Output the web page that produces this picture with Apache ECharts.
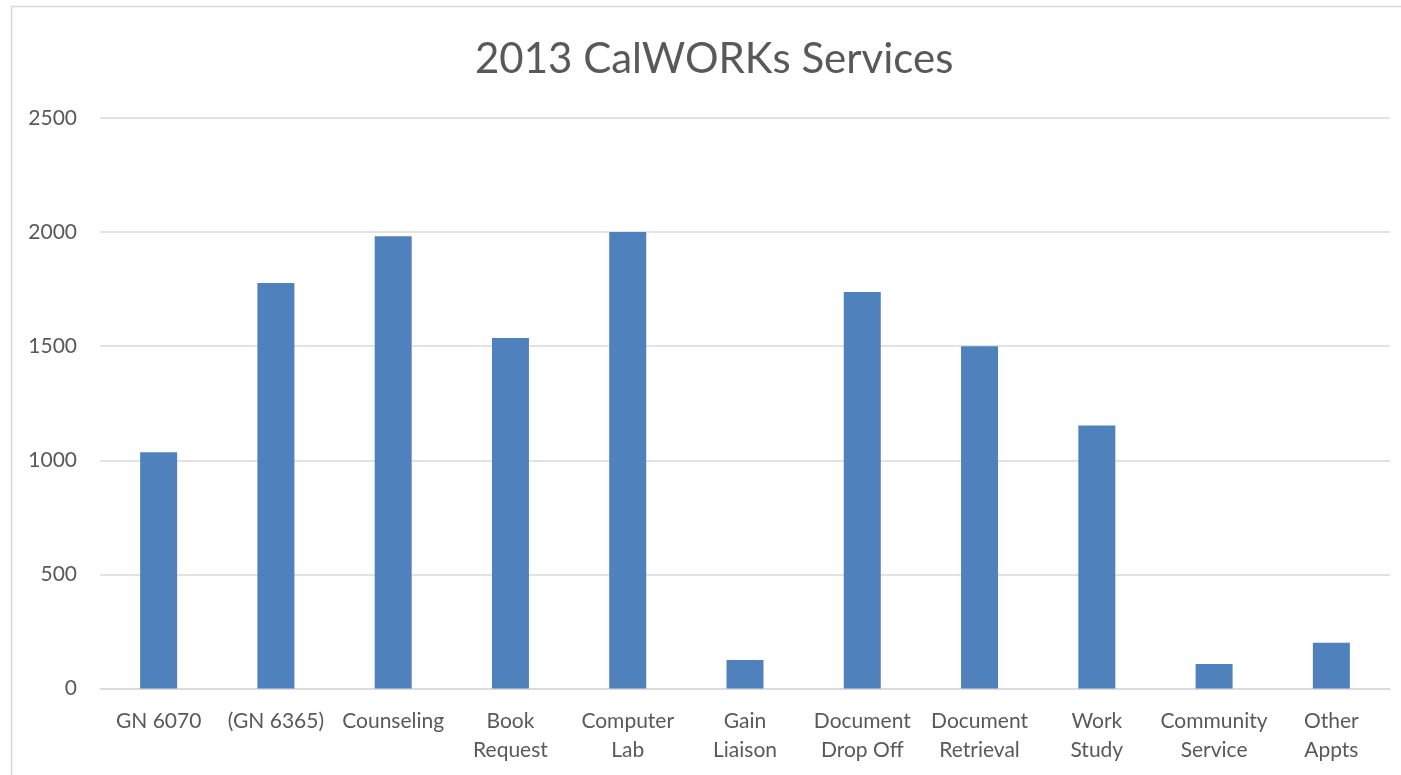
<!DOCTYPE html>
<html>
<head>
<meta charset="utf-8">
<script src="https://cdn.jsdelivr.net/npm/echarts@6/dist/echarts.min.js"></script>
<style>
html,body{margin:0;padding:0;background:#fff;}
#chart{width:1401px;height:775px;}
</style>
</head>
<body>
<div id="chart"></div>
<script>
const title = '2013 CalWORKs Services';
const categories = ['GN 6070', '(GN 6365)', 'Counseling', 'Book\nRequest', 'Computer\nLab', 'Gain\nLiaison', 'Document\nDrop Off', 'Document\nRetrieval', 'Work\nStudy', 'Community\nService', 'Other\nAppts'];
const values = [1035, 1777, 1982, 1536, 2000, 125, 1738, 1500, 1153, 107, 200];
const yTicks = { min: 0, max: 2500, interval: 500 };

const chart = echarts.init(document.getElementById('chart'), null, { renderer: 'canvas' });
const font = 'Lato, "Open Sans", sans-serif';
chart.setOption({
  animation: false,
  backgroundColor: '#ffffff',
  graphic: [{
    type: 'rect',
    shape: { x: 11.5, y: 6.5, width: 1500, height: 900 },
    style: { fill: 'none', stroke: '#d9d9d9', lineWidth: 1.5 },
    silent: true
  }],
  title: {
    text: title,
    left: 475,
    top: 38,
    padding: 0,
    textStyle: { fontFamily: font, fontWeight: 'normal', fontSize: 42, color: '#595959' }
  },
  grid: { left: 100, right: 11, top: 118, bottom: 86.5, containLabel: false },
  xAxis: {
    type: 'category',
    data: categories,
    axisLine: { show: true, lineStyle: { color: '#d9d9d9', width: 1.5 } },
    axisTick: { show: false },
    axisLabel: {
      interval: 0,
      margin: 18,
      color: '#595959',
      fontFamily: font,
      fontSize: 21,
      lineHeight: 29
    }
  },
  yAxis: {
    type: 'value',
    min: yTicks.min,
    max: yTicks.max,
    interval: yTicks.interval,
    axisLine: { show: false },
    axisTick: { show: false },
    splitLine: { lineStyle: { color: '#d9d9d9', width: 1.5 } },
    axisLabel: {
      margin: 23,
      color: '#595959',
      fontFamily: font,
      fontSize: 21,
      formatter: v => String(v)
    }
  },
  series: [{
    type: 'bar',
    data: values,
    barWidth: 37,
    itemStyle: { color: '#4f81bd' }
  }]
});
</script>
</body>
</html>
